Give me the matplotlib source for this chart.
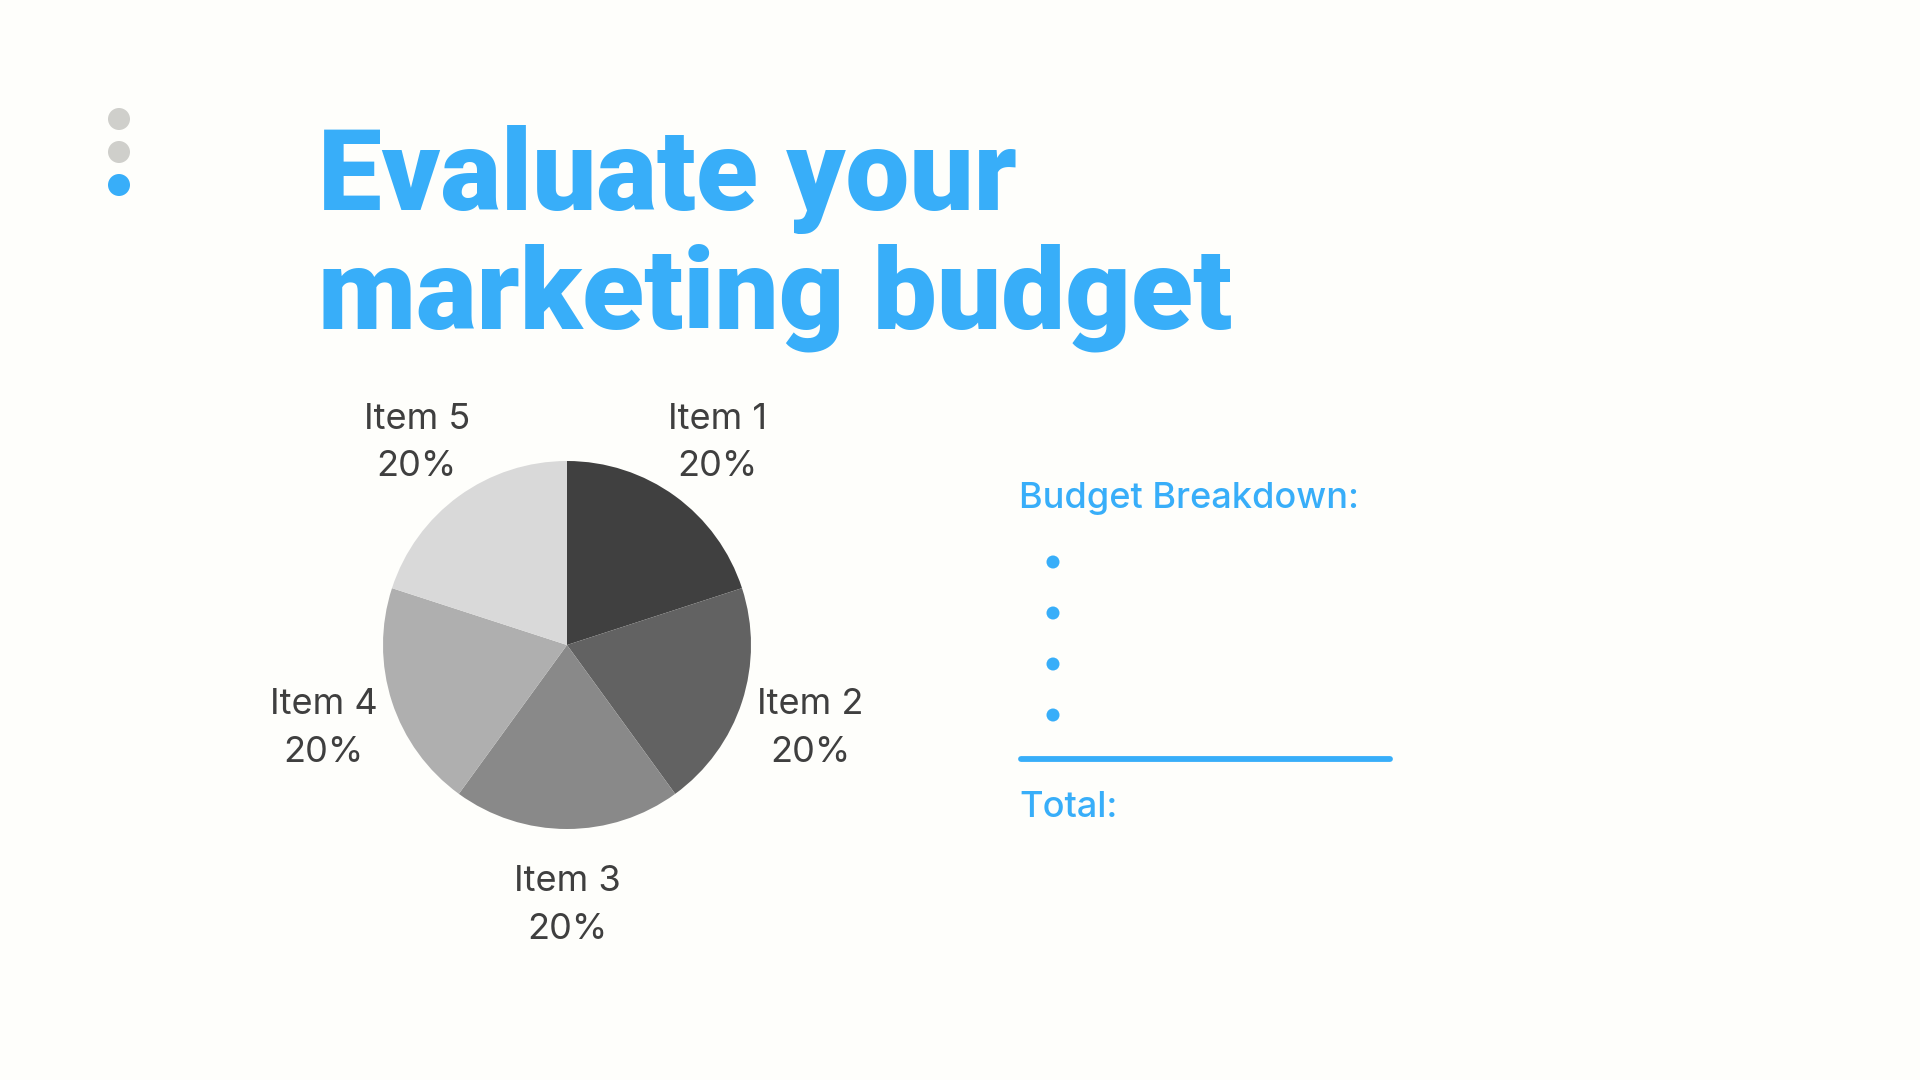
import matplotlib
matplotlib.use("Agg")
import matplotlib.pyplot as plt
from matplotlib.patches import Circle

# ---- data ----
items = ["Item 1", "Item 2", "Item 3", "Item 4", "Item 5"]
shares = [20, 20, 20, 20, 20]
slice_colors = ["#404040", "#626262", "#898989", "#AFAFAF", "#D9D9D9"]
title_lines = ["Evaluate your", "marketing budget"]
side_heading = "Budget Breakdown:"
bullet_count = 4
total_label = "Total:"

BLUE = "#38AEF9"
GRAY_DOT = "#CFCFCB"
LABEL = "#3F3F3F"
BG = "#FEFEFB"

W, H = 1920, 1080
fig = plt.figure(figsize=(19.2, 10.8), dpi=100, facecolor=BG)

# background axes in pixel coordinates (y downwards)
bg = fig.add_axes([0, 0, 1, 1])
bg.set_xlim(0, W)
bg.set_ylim(H, 0)
bg.axis("off")
bg.set_facecolor(BG)

# decorative dots
for y, c in zip([119, 152, 185], [GRAY_DOT, GRAY_DOT, BLUE]):
    bg.add_patch(Circle((119, y), 11, color=c, lw=0))

# title
for line, base in zip(title_lines, [210, 328]):
    bg.text(318, base, line, fontsize=82, fontweight="black", family="Roboto",
            color=BLUE, ha="left", va="baseline")

# right side panel
bg.text(1019, 508, side_heading, fontsize=26, fontweight="medium", family="Inter",
        color=BLUE, ha="left", va="baseline")
for i in range(bullet_count):
    bg.add_patch(Circle((1053, 562 + i * 51), 6.5, color=BLUE, lw=0))
bg.plot([1021, 1390], [759, 759], color=BLUE, lw=4.2, solid_capstyle="round")
bg.text(1019, 817, total_label, fontsize=26, fontweight="medium", family="Inter",
        color=BLUE, ha="left", va="baseline")

# pie
cx, cy, R = 567, 645, 184
side = 4 * R
pax = fig.add_axes([(cx - side / 2) / W, (H - cy - side / 2) / H, side / W, side / H])
labels = [f"{n}\n{v}%" for n, v in zip(items, shares)]
wedges, texts = pax.pie(shares, colors=slice_colors, startangle=90, counterclock=False,
                        labels=labels, labeldistance=1.39,
                        wedgeprops=dict(linewidth=0),
                        textprops=dict(fontsize=26, color=LABEL, family="Inter",
                                       linespacing=1.55))
for t in texts:
    t.set_ha("center")
    t.set_va("center")
    x, y = t.get_position()
    t.set_position((x, y - 0.025))
pax.set_xlim(-2, 2)
pax.set_ylim(-2, 2)
pax.set_aspect("equal")
pax.axis("off")

fig.savefig("out.png", dpi=100, facecolor=BG)
